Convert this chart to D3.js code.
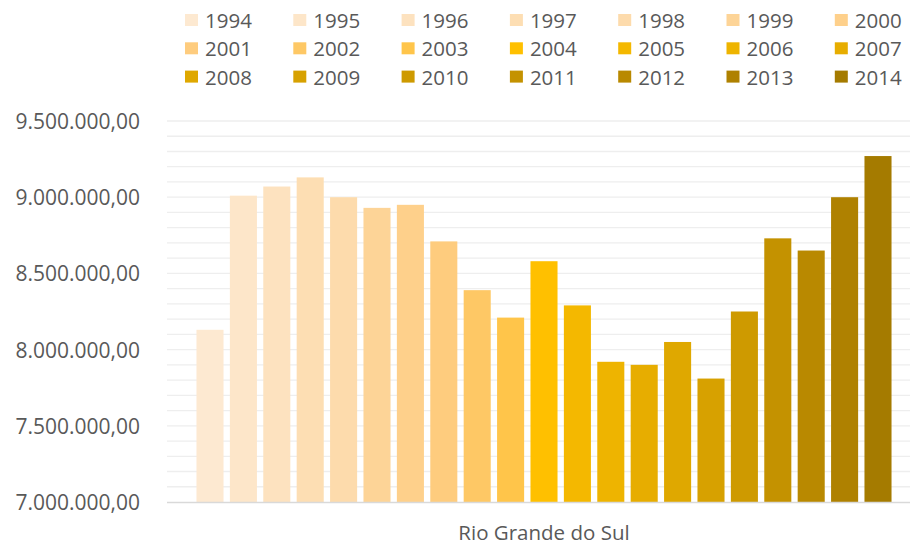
<!DOCTYPE html>
<html><head><meta charset="utf-8">
<script src="https://cdn.jsdelivr.net/npm/d3@7"></script>
<style>body{margin:0;background:#fff}svg{display:block}text{font-family:"Open Sans",sans-serif;fill:#595959}</style>
</head><body><svg id="c" width="910" height="546"></svg>
<script>
const categories = ["Rio Grande do Sul"];
const years = ["1994","1995","1996","1997","1998","1999","2000","2001","2002","2003","2004","2005","2006","2007","2008","2009","2010","2011","2012","2013","2014"];
const values = [8130000,9010000,9070000,9130000,9000000,8930000,8950000,8710000,8390000,8210000,8580000,8290000,7920000,7900000,8050000,7810000,8250000,8730000,8650000,9000000,9270000];
const colors = ["#FDE9D1","#FDE6C9","#FDE2BF","#FDDEB3","#FDDBAC","#FDD497","#FED08B","#FECC7E","#FEC865","#FFC54A","#FFC000","#F4B800","#EEB400","#E7AD00","#DFA800","#D7A100","#CE9A00","#C49200","#B98900","#AF8100","#A57B00"];
const yTicks = [7000000,7500000,8000000,8500000,9000000,9500000];

const svg = d3.select("#c");
const loc = d3.formatLocale({decimal:",",thousands:".",grouping:[3],currency:["",""]});
const fmt = loc.format(",.2f");

const y = d3.scaleLinear().domain([7000000,9500000]).range([502,121]);
const x0 = d3.scaleBand().domain(categories).range([167,921]).paddingOuter(0.0375).paddingInner(0);
const x1 = d3.scaleBand().domain(years).range([0,x0.bandwidth()]).paddingInner(0.19).paddingOuter(0.095);

// gridlines (every 100k)
svg.append("g").selectAll("line").data(d3.range(7100000,9500001,100000)).join("line")
  .attr("x1",167).attr("x2",910).attr("y1",d=>y(d)).attr("y2",d=>y(d))
  .attr("stroke","#EEEEEE").attr("stroke-width",1.3);

// y tick labels
svg.append("g").selectAll("text").data(yTicks).join("text")
  .attr("x",140).attr("y",d=>y(d)).attr("text-anchor","end").attr("dominant-baseline","central")
  .style("font-size","21px").text(d=>fmt(d));

// bars
const g = svg.append("g").attr("transform",`translate(${x0(categories[0])},0)`);
g.selectAll("rect").data(years).join("rect")
  .attr("x",d=>x1(d)).attr("width",x1.bandwidth())
  .attr("y",(d,i)=>y(values[i])).attr("height",(d,i)=>y(7000000)-y(values[i]))
  .attr("fill",(d,i)=>colors[i]);

// axis line
svg.append("line").attr("x1",167).attr("x2",910).attr("y1",y(7000000)+0.5).attr("y2",y(7000000)+0.5)
  .attr("stroke","#D9D9D9").attr("stroke-width",1.5);

// category label
svg.append("text").attr("x",x0(categories[0])+x0.bandwidth()/2).attr("y",532)
  .attr("text-anchor","middle").attr("dominant-baseline","central").style("font-size","20.5px").text(categories[0]);

// legend
const lg = svg.append("g").selectAll("g").data(years).join("g")
  .attr("transform",(d,i)=>`translate(${185+(i%7)*108.3},${20+Math.floor(i/7)*28.3})`);
lg.append("rect").attr("x",0).attr("y",-6).attr("width",13).attr("height",12).attr("fill",(d,i)=>colors[i]);
lg.append("text").attr("x",20).attr("y",0).attr("dominant-baseline","central").style("font-size","20.5px").text(d=>d);
</script></body></html>
